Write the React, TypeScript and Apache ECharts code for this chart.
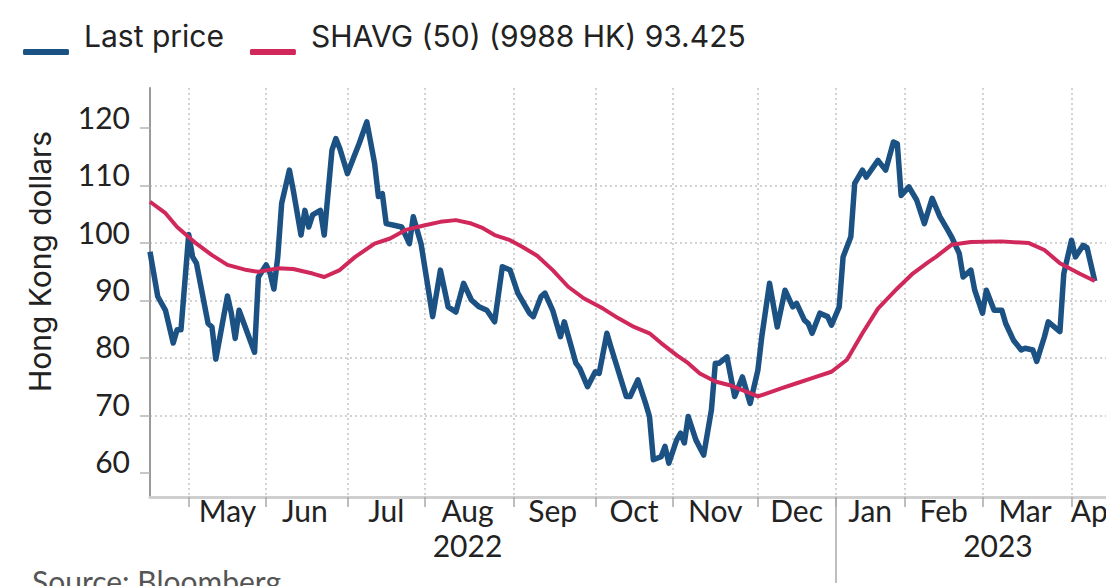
import React, { useEffect, useRef } from "react";
import * as echarts from "echarts";

// Hong Kong exchange holidays (weekday closures) in the period shown
const HOLIDAYS = [
  "2022-04-15", "2022-04-18", "2022-05-02", "2022-05-09", "2022-06-03", "2022-07-01",
  "2022-09-12", "2022-10-04", "2022-12-26", "2022-12-27", "2023-01-02", "2023-01-23",
  "2023-01-24", "2023-01-25", "2023-04-05", "2023-04-07", "2023-04-10",
];
const FIRST_DAY = "2022-04-14";
const LAST_DAY = "2023-04-24";

const MONTH_NAMES = ["Jan", "Feb", "Mar", "Apr", "May", "Jun", "Jul", "Aug", "Sep", "Oct", "Nov", "Dec"];
const LABEL_MONTHS = [
  "2022-05", "2022-06", "2022-07", "2022-08", "2022-09", "2022-10",
  "2022-11", "2022-12", "2023-01", "2023-02", "2023-03", "2023-04",
];
const YEAR_LABEL_DATES = ["2022-08-16", "2023-03-07"];
const YEAR_LABELS = ["2022", "2023"];
const YEAR_DIVIDER_DATE = "2023-01-03";
const Y_TICKS = [60, 70, 80, 90, 100, 110, 120];

const PRICE_DATES = [
  "2022-04-14", "2022-04-20", "2022-04-22", "2022-04-26", "2022-04-27", "2022-04-28",
  "2022-05-03", "2022-05-04", "2022-05-05", "2022-05-11", "2022-05-12", "2022-05-13",
  "2022-05-18", "2022-05-19", "2022-05-20", "2022-05-23", "2022-05-27", "2022-05-30",
  "2022-06-01", "2022-06-02", "2022-06-06", "2022-06-07", "2022-06-08", "2022-06-10",
  "2022-06-13", "2022-06-15", "2022-06-16", "2022-06-17", "2022-06-20", "2022-06-22",
  "2022-06-23", "2022-06-27", "2022-06-28", "2022-06-29", "2022-07-04", "2022-07-06",
  "2022-07-07", "2022-07-11", "2022-07-13", "2022-07-14", "2022-07-15", "2022-07-18",
  "2022-07-20", "2022-07-22", "2022-07-26", "2022-07-27", "2022-07-29", "2022-08-03",
  "2022-08-05", "2022-08-09", "2022-08-11", "2022-08-15", "2022-08-17", "2022-08-19",
  "2022-08-23", "2022-08-25", "2022-08-29", "2022-08-31", "2022-09-02", "2022-09-07",
  "2022-09-08", "2022-09-13", "2022-09-14", "2022-09-16", "2022-09-19", "2022-09-20",
  "2022-09-21", "2022-09-26", "2022-09-27", "2022-09-29", "2022-10-03", "2022-10-05",
  "2022-10-07", "2022-10-10", "2022-10-14", "2022-10-17", "2022-10-19", "2022-10-21",
  "2022-10-24", "2022-10-25", "2022-10-27", "2022-10-28", "2022-10-31", "2022-11-02",
  "2022-11-03", "2022-11-04", "2022-11-07", "2022-11-09", "2022-11-11", "2022-11-15",
  "2022-11-16", "2022-11-17", "2022-11-21", "2022-11-23", "2022-11-25", "2022-11-29",
  "2022-12-01", "2022-12-02", "2022-12-06", "2022-12-08", "2022-12-12", "2022-12-14",
  "2022-12-15", "2022-12-19", "2022-12-20", "2022-12-21", "2022-12-23", "2022-12-29",
  "2022-12-30", "2023-01-04", "2023-01-05", "2023-01-09", "2023-01-10", "2023-01-12",
  "2023-01-13", "2023-01-18", "2023-01-20", "2023-01-27", "2023-01-30", "2023-01-31",
  "2023-02-02", "2023-02-06", "2023-02-08", "2023-02-10", "2023-02-14", "2023-02-16",
  "2023-02-17", "2023-02-21", "2023-02-22", "2023-02-24", "2023-02-27", "2023-03-01",
  "2023-03-02", "2023-03-06", "2023-03-08", "2023-03-09", "2023-03-13", "2023-03-15",
  "2023-03-16", "2023-03-20", "2023-03-21", "2023-03-23", "2023-03-24", "2023-03-29",
  "2023-03-30", "2023-04-03", "2023-04-04", "2023-04-11", "2023-04-12", "2023-04-14",
];
const PRICE_VALUES = [
  98.5, 90.7, 88.3, 82.6, 84.9, 84.9,
  101.5, 97.6, 96.5, 86, 85.4, 79.8,
  90.8, 87.8, 83.4, 88.3, 81, 94.1,
  96.2, 94.8, 92, 97.6, 106.9, 112.7,
  109.2, 101.4, 105.7, 102.8, 104.9, 105.7,
  101.4, 116.2, 118.2, 116.5, 112.1, 115.6,
  117.3, 121.1, 113.9, 108.1, 108.6, 103.4,
  103.1, 102.8, 99.9, 104.6, 99.9, 87.2,
  95.3, 88.9, 88, 93, 90.1, 88.9,
  88.3, 86.3, 95.9, 95.3, 91.3, 87.8,
  87.2, 90.7, 91.3, 88.3, 86, 83.7,
  86.3, 79.1, 78.2, 75, 77.6, 77.3,
  84.3, 82, 73.3, 73.3, 76.2, 72.1,
  69.8, 62.3, 62.8, 64.6, 61.7, 65.7,
  66.9, 65.2, 69.8, 65.7, 63.1, 71,
  79.1, 79.1, 80.2, 73.3, 76.7, 72.1,
  77.9, 83.7, 93, 85.4, 91.8, 88.9,
  89.5, 86.6, 86, 84.3, 87.8, 87.2,
  85.7, 88.9, 97.6, 101.1, 110.4, 112.7,
  111.5, 114.4, 112.7, 117.6, 117.3, 108.3,
  109.8, 107.5, 103.4, 107.8, 104.6, 102.3,
  101.1, 98.2, 94.1, 95.3, 91.8, 87.8,
  91.8, 88.3, 88.3, 86, 83.1, 81.4,
  81.7, 81.4, 79.4, 83.7, 86.3, 84.6,
  94.7, 100.5, 97.6, 99.6, 99.2, 93.4,
];

const SHAVG_DATES = [
  "2022-04-14", "2022-04-22", "2022-04-27", "2022-05-05", "2022-05-12", "2022-05-18",
  "2022-05-25", "2022-05-30", "2022-06-07", "2022-06-13", "2022-06-20", "2022-06-23",
  "2022-06-29", "2022-07-06", "2022-07-13", "2022-07-19", "2022-07-25", "2022-08-01",
  "2022-08-05", "2022-08-11", "2022-08-17", "2022-08-22", "2022-08-25", "2022-08-31",
  "2022-09-05", "2022-09-09", "2022-09-16", "2022-09-22", "2022-09-28", "2022-10-06",
  "2022-10-12", "2022-10-18", "2022-10-24", "2022-10-27", "2022-11-02", "2022-11-07",
  "2022-11-10", "2022-11-16", "2022-11-22", "2022-11-25", "2022-12-01", "2022-12-09",
  "2022-12-15", "2022-12-21", "2022-12-30", "2023-01-06", "2023-01-12", "2023-01-18",
  "2023-01-30", "2023-02-03", "2023-02-09", "2023-02-13", "2023-02-17", "2023-02-24",
  "2023-03-08", "2023-03-17", "2023-03-23", "2023-03-29", "2023-04-06", "2023-04-14",
];
const SHAVG_VALUES = [
  107.2, 105.2, 102.8, 99.9, 97.9, 96.2,
  95.3, 95.0, 95.6, 95.5, 94.7, 94.1,
  95.3, 97.6, 99.9, 100.8, 102.3, 103.1,
  103.7, 104, 103.4, 102.6, 101.4, 100.5,
  99.4, 97.8, 95.3, 92.4, 90.4, 88.6,
  86.9, 85.4, 84.3, 82.6, 80.5, 79.1,
  77.3, 75.9, 75.2, 74.4, 73.3, 74.7,
  75.6, 76.5, 77.6, 79.7, 84.3, 88.6,
  92.1, 94.7, 96.7, 97.6, 99.7, 100.2,
  100.3, 100, 98.8, 96.5, 94.7, 93.4,
];

const BLUE = "#1b5283";
const RED = "#d0285a";
const TEXT = "#222222";
const FONT = "Lato";
const WIDE_FONT = "Inter";

function buildTradingDays(): string[] {
  const hol = new Set(HOLIDAYS);
  const out: string[] = [];
  const d = new Date(FIRST_DAY + "T00:00:00Z");
  const end = new Date(LAST_DAY + "T00:00:00Z");
  while (d.getTime() <= end.getTime()) {
    const wd = d.getUTCDay();
    const s = d.toISOString().slice(0, 10);
    if (wd !== 0 && wd !== 6 && !hol.has(s)) out.push(s);
    d.setUTCDate(d.getUTCDate() + 1);
  }
  return out;
}

export default function App() {
  const ref = useRef<HTMLDivElement>(null);

  useEffect(() => {
    document.body.style.margin = "0";
    document.body.style.overflow = "hidden";
    if (!ref.current) return;
    const chart = echarts.init(ref.current, undefined, { renderer: "svg" });

    const days = buildTradingDays();
    const monthStart = days.map((s, i) => i > 0 && s.slice(0, 7) !== days[i - 1].slice(0, 7));
    const monthLabel = new Map<number, string>();
    LABEL_MONTHS.forEach((m) => {
      const idx = days.map((s, i) => (s.slice(0, 7) === m ? i : -1)).filter((i) => i >= 0);
      if (idx.length) {
        monthLabel.set(idx[0] + Math.floor(idx.length / 2), MONTH_NAMES[parseInt(m.slice(5, 7), 10) - 1]);
      }
    });
    const yearLabel = new Map<number, string>();
    YEAR_LABEL_DATES.forEach((d, i) => yearLabel.set(days.indexOf(d), YEAR_LABELS[i]));
    const dividerIdx = days.indexOf(YEAR_DIVIDER_DATE);

    const gridLine = { color: "#c4c4c4", type: [2, 3] as any, width: 1.5 };

    chart.setOption({
      animation: false,
      backgroundColor: "#ffffff",
      textStyle: { fontFamily: FONT },
      legend: {
        left: 23,
        top: 20,
        padding: 0,
        itemWidth: 46,
        itemHeight: 6,
        itemGap: 26,
        icon: "roundRect",
        lineStyle: { width: 6, cap: "round" },
        formatter: (name: string) => name + "\n",
        textStyle: { fontSize: 30, color: TEXT, fontFamily: WIDE_FONT, lineHeight: 32, padding: [0, 0, 0, 10] },
        data: ["Last price", "SHAVG (50) (9988 HK) 93.425"],
      },
      grid: { left: 150, top: 88, right: 22, bottom: 89, containLabel: false },
      xAxis: [
        {
          type: "category",
          data: days,
          boundaryGap: false,
          axisLine: { show: true, lineStyle: { color: "#cfcfcf", width: 3 } },
          axisTick: {
            show: true,
            interval: (i: number) => monthStart[i],
            length: 10,
            lineStyle: { color: "#a8a8a8", width: 1.5 },
          },
          axisLabel: {
            interval: (i: number) => monthLabel.has(i),
            formatter: (_v: string, i: number) => monthLabel.get(i) ?? "",
            margin: 0,
            fontSize: 30,
            lineHeight: 26,
            color: TEXT,
            fontFamily: FONT,
          },
          splitLine: { show: true, interval: (i: number) => monthStart[i], lineStyle: gridLine },
        },
        {
          type: "category",
          data: days,
          boundaryGap: false,
          position: "bottom",
          axisLine: { show: false },
          axisTick: {
            show: true,
            interval: (i: number) => i === dividerIdx,
            length: 86,
            lineStyle: { color: "#a8a8a8", width: 1.5 },
          },
          axisLabel: {
            interval: (i: number) => yearLabel.has(i),
            formatter: (_v: string, i: number) => yearLabel.get(i) ?? "",
            margin: 35,
            fontSize: 30,
            lineHeight: 26,
            color: TEXT,
            fontFamily: FONT,
          },
          splitLine: { show: false },
        },
      ],
      yAxis: {
        type: "value",
        min: 55.8,
        max: 127,
        axisLine: { show: true, lineStyle: { color: "#9a9a9a", width: 2 } },
        axisTick: { show: true, customValues: Y_TICKS, length: 10, lineStyle: { color: "#b5b5b5", width: 1.5 } },
        axisLabel: {
          customValues: Y_TICKS,
          margin: 20,
          fontSize: 30,
          lineHeight: 23,
          verticalAlign: "bottom",
          color: TEXT,
          fontFamily: FONT,
        },
        splitLine: { show: true, showMinLine: false, showMaxLine: false, lineStyle: gridLine },
        name: "Hong Kong dollars",
        nameLocation: "middle",
        nameGap: 95,
        nameTextStyle: { fontSize: 30, color: TEXT, fontFamily: WIDE_FONT, padding: [0, 0, 0, 62] },
      },
      series: [
        {
          name: "Last price",
          type: "line",
          data: PRICE_DATES.map((d, i) => [d, PRICE_VALUES[i]]),
          symbol: "none",
          showSymbol: false,
          lineStyle: { color: BLUE, width: 5.5, join: "round" },
          itemStyle: { color: BLUE },
          z: 2,
        },
        {
          name: "SHAVG (50) (9988 HK) 93.425",
          type: "line",
          data: SHAVG_DATES.map((d, i) => [d, SHAVG_VALUES[i]]),
          symbol: "none",
          showSymbol: false,
          lineStyle: { color: RED, width: 4, join: "round" },
          itemStyle: { color: RED },
          z: 3,
        },
      ],
      graphic: [
        {
          type: "text",
          left: 32,
          top: 566,
          style: { text: "Source: Bloomberg", fontSize: 30, fill: "#555555", fontFamily: FONT },
        },
      ],
    });

    return () => chart.dispose();
  }, []);

  return (
    <div
      ref={ref}
      style={{ position: "absolute", left: 0, top: 0, width: 1140, height: 586 }}
    />
  );
}
